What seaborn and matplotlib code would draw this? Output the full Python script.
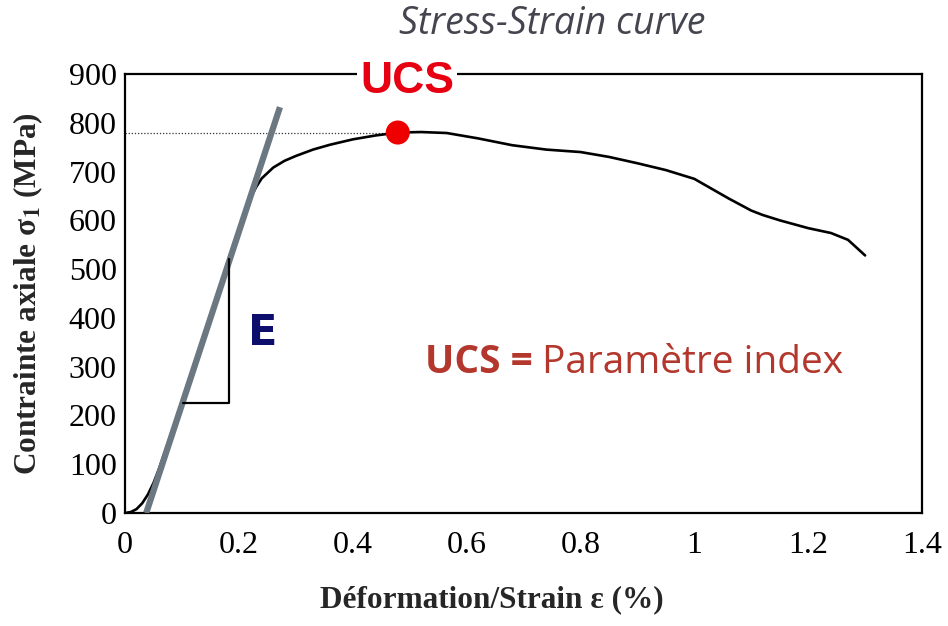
import numpy as np
import matplotlib
matplotlib.use("Agg")
import matplotlib.pyplot as plt
import seaborn as sns
import pandas as pd

# ---- data ----
strain = [0.0, 0.01, 0.02, 0.03, 0.04, 0.05, 0.06, 0.08, 0.10, 0.12, 0.14,
          0.16, 0.18, 0.20, 0.22, 0.23, 0.24, 0.26, 0.28, 0.30, 0.33, 0.36,
          0.40, 0.44, 0.48, 0.52, 0.565, 0.62, 0.68, 0.74, 0.80, 0.85, 0.90,
          0.95, 1.00, 1.06, 1.10, 1.12, 1.15, 1.20, 1.24, 1.27, 1.30]
stress = [0, 2, 8, 20, 38, 62, 92, 160, 228, 298, 370,
          442, 514, 583, 645, 668, 686, 708, 722, 732, 745, 755,
          766, 774, 780, 781, 779, 768, 754, 745, 740, 730, 717,
          703, 685, 645, 620, 611, 600, 584, 574, 560, 528]

# module line (E)
e_line_x = [0.037, 0.272]
e_line_y = [0, 832]

# slope triangle
tri_x = [0.101, 0.183, 0.183]
tri_y = [225, 225, 520]

# UCS point
ucs_x = 0.479
ucs_y = 780

xticks = [0, 0.2, 0.4, 0.6, 0.8, 1, 1.2, 1.4]
xtick_labels = ["0", "0.2", "0.4", "0.6", "0.8", "1", "1.2", "1.4"]
yticks = list(range(0, 1000, 100))

df = pd.DataFrame({"strain": strain, "stress": stress})

sns.set_style("white")
plt.rcParams["font.family"] = ["Liberation Serif", "DejaVu Serif"]
plt.rcParams["mathtext.fontset"] = "stix"

fig = plt.figure(figsize=(9.48, 6.26), dpi=100)
ax = fig.add_axes([0.132, 0.1805, 0.8406, 0.7013])

# dotted guide at UCS level
ax.plot([0, ucs_x], [ucs_y, ucs_y], color="#333333", lw=0.9, ls=(0, (1, 1.5)), zorder=2)

# stress-strain curve
sns.lineplot(data=df, x="strain", y="stress", sort=False, estimator=None,
             color="black", lw=1.9, ax=ax, zorder=3)

# tangent line for E
ax.plot(e_line_x, e_line_y, color="#6b7882", lw=4.5, solid_capstyle="butt", zorder=4)

# slope triangle
ax.plot(tri_x, tri_y, color="black", lw=1.6, zorder=4)

# UCS point
sns.scatterplot(x=[ucs_x], y=[ucs_y], color="#ee0000", s=300, edgecolor="none",
                ax=ax, zorder=6, legend=False)

ax.set_xlim(0, 1.4)
ax.set_ylim(0, 900)
ax.set_xticks(xticks)
ax.set_xticklabels(xtick_labels)
ax.set_yticks(yticks)

for s in ax.spines.values():
    s.set_visible(True)
    s.set_color("black")
    s.set_linewidth(1.6)

ax.tick_params(axis="both", direction="out", length=5, width=1.4, colors="black",
               labelsize=23)
ax.tick_params(axis="y", pad=1)
ax.tick_params(axis="x", pad=8)

ax.set_xlabel("Déformation/Strain ε (%)", fontsize=22.5, fontweight="bold")
ax.xaxis.set_label_coords(0.46, -0.165)
ax.set_ylabel(r"Contrainte axiale σ$_\mathbf{1}$ (MPa)", fontsize=22.5, fontweight="bold")
ax.yaxis.set_label_coords(-0.1, 0.5)

# annotations
ax.text(0.495, 885, "UCS", color="#e60012", fontsize=32, fontweight="bold",
        family="Liberation Sans", ha="center", va="center", zorder=10, clip_on=False,
        bbox=dict(facecolor="white", edgecolor="none", pad=2))
ax.text(0.242, 369, "E", color="#0d0d6b", fontsize=31, fontweight="bold",
        family="DejaVu Sans", ha="center", va="center", zorder=10)

t1 = ax.text(0.526, 287, "UCS =", color="#b3372c", fontsize=28, fontweight="bold",
             family="Open Sans", ha="left", va="baseline", zorder=10)
ax.annotate(" Paramètre index", xy=(1, 0), xycoords=t1, color="#b3372c", fontsize=28,
            family="Open Sans", ha="left", va="bottom", zorder=10)

fig.text(552 / 948, 1 - 24 / 626, "Stress-Strain curve", color="#45454f", fontsize=27,
         style="italic", family="Open Sans", ha="center", va="center")

fig.savefig("out.png", dpi=100)
